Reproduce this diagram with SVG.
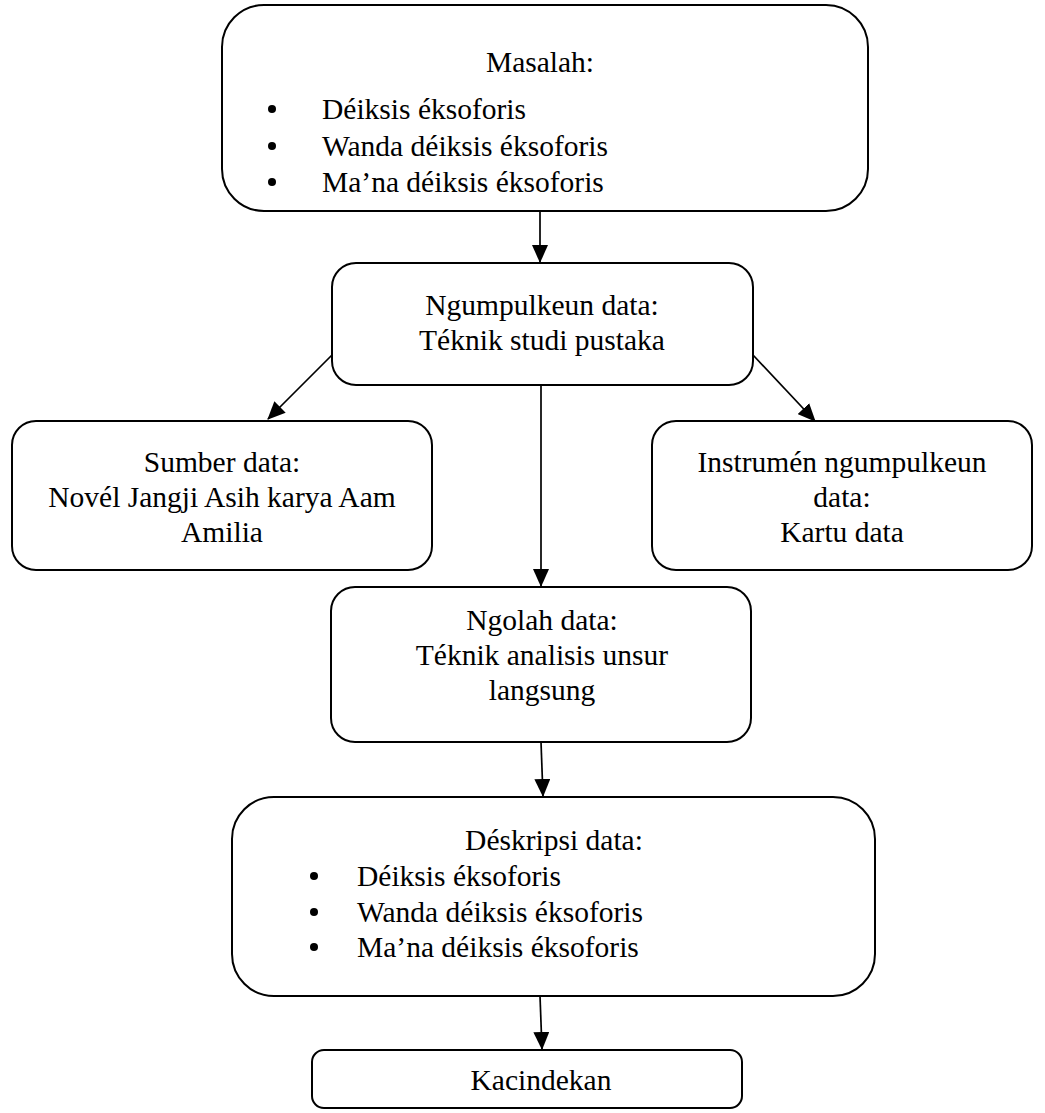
<svg xmlns="http://www.w3.org/2000/svg" width="1045" height="1113" viewBox="0 0 1045 1113">
<defs>
<style>
.box{fill:#fff;stroke:#000;stroke-width:2}
.t{font-family:"Liberation Serif","Times New Roman",serif;font-size:29.5px;fill:#000}
.c{text-anchor:middle}
.ln{stroke:#000;stroke-width:1.7;fill:none}
</style>
<marker id="ah" markerWidth="18" markerHeight="16" refX="17" refY="8" orient="auto" markerUnits="userSpaceOnUse">
<path d="M0,0 L18,8 L0,16 Z" fill="#000"/>
</marker>
</defs>
<rect width="1045" height="1113" fill="#fff"/>
<g id="connectors">
<line class="ln" x1="540" y1="211" x2="540" y2="262" marker-end="url(#ah)"/>
<line class="ln" x1="332" y1="355" x2="268" y2="419" marker-end="url(#ah)"/>
<line class="ln" x1="753" y1="355" x2="815" y2="421" marker-end="url(#ah)"/>
<line class="ln" x1="541" y1="385" x2="541" y2="586" marker-end="url(#ah)"/>
<line class="ln" x1="541" y1="742" x2="543" y2="796" marker-end="url(#ah)"/>
<line class="ln" x1="540" y1="996" x2="542" y2="1049" marker-end="url(#ah)"/>
</g>
<g id="masalah">
<rect class="box" x="222" y="5" width="646" height="206" rx="42"/>
<text class="t c" x="540" y="72">Masalah:</text>
<circle cx="272" cy="109" r="4"/><text class="t" x="322" y="119">Déiksis éksoforis</text>
<circle cx="272" cy="146" r="4"/><text class="t" x="322" y="156">Wanda déiksis éksoforis</text>
<circle cx="272" cy="182" r="4"/><text class="t" x="322" y="192">Ma’na déiksis éksoforis</text>
</g>
<g id="ngumpulkeun">
<rect class="box" x="332" y="263" width="421" height="122" rx="24"/>
<text class="t c" x="542" y="315">Ngumpulkeun data:</text>
<text class="t c" x="542" y="350">Téknik studi pustaka</text>
</g>
<g id="sumber">
<rect class="box" x="12" y="421" width="420" height="149" rx="24"/>
<text class="t c" x="222" y="472">Sumber data:</text>
<text class="t c" x="222" y="507">Novél Jangji Asih karya Aam</text>
<text class="t c" x="222" y="542">Amilia</text>
</g>
<g id="instrumen">
<rect class="box" x="652" y="421" width="380" height="149" rx="24"/>
<text class="t c" x="842" y="472">Instrumén ngumpulkeun</text>
<text class="t c" x="842" y="507">data:</text>
<text class="t c" x="842" y="542">Kartu data</text>
</g>
<g id="ngolah">
<rect class="box" x="331" y="587" width="420" height="155" rx="24"/>
<text class="t c" x="542" y="630">Ngolah data:</text>
<text class="t c" x="542" y="665">Téknik analisis unsur</text>
<text class="t c" x="542" y="700">langsung</text>
</g>
<g id="deskripsi">
<rect class="box" x="232" y="797" width="643" height="199" rx="42"/>
<text class="t c" x="554" y="850">Déskripsi data:</text>
<circle cx="314" cy="876" r="4"/><text class="t" x="357" y="886">Déiksis éksoforis</text>
<circle cx="314" cy="912" r="4"/><text class="t" x="357" y="922">Wanda déiksis éksoforis</text>
<circle cx="314" cy="947" r="4"/><text class="t" x="357" y="957">Ma’na déiksis éksoforis</text>
</g>
<g id="kacindekan">
<rect class="box" x="312" y="1050" width="430" height="58" rx="12"/>
<text class="t c" x="541" y="1090">Kacindekan</text>
</g>
</svg>
